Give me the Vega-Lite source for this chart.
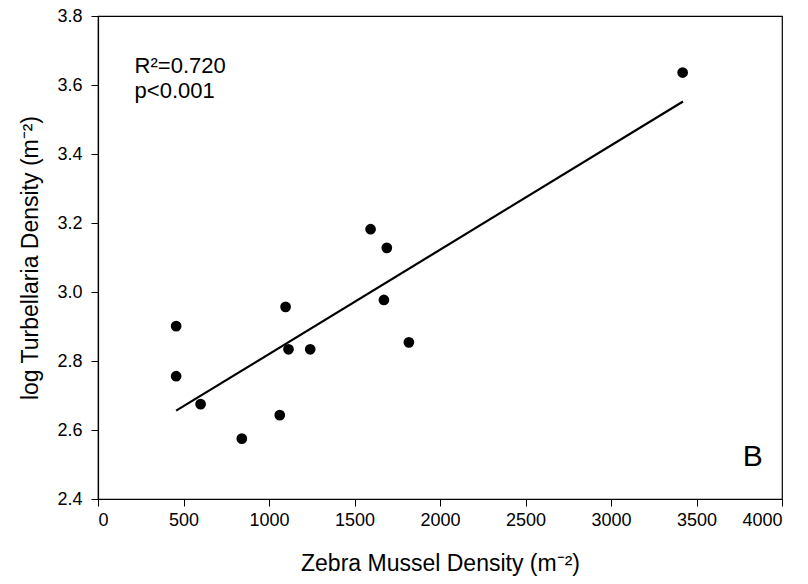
{
  "$schema": "https://vega.github.io/schema/vega-lite/v6.json",
  "width": 684,
  "height": 483,
  "autosize": {"type": "none"},
  "padding": {"left": 98, "top": 16, "right": 26, "bottom": 85},
  "background": "white",
  "config": {
    "view": {"stroke": "black", "strokeWidth": 1.2},
    "font": "Liberation Sans",
    "axis": {
      "grid": false,
      "domainColor": "black",
      "domainWidth": 1.2,
      "tickColor": "black",
      "tickSize": 7,
      "labelFont": "Liberation Sans",
      "labelFontSize": 18,
      "labelColor": "black",
      "titleFont": "Liberation Sans",
      "titleFontSize": 23,
      "titleFontWeight": "normal",
      "titleColor": "black"
    }
  },
  "datasets": {
    "points": [
      {"mussel": 457, "turb": 2.901},
      {"mussel": 457, "turb": 2.756},
      {"mussel": 600, "turb": 2.675},
      {"mussel": 841, "turb": 2.575},
      {"mussel": 1063, "turb": 2.643},
      {"mussel": 1097, "turb": 2.957},
      {"mussel": 1114, "turb": 2.834},
      {"mussel": 1241, "turb": 2.834},
      {"mussel": 1818, "turb": 2.854},
      {"mussel": 1672, "turb": 2.977},
      {"mussel": 1594, "turb": 3.182},
      {"mussel": 1689, "turb": 3.128},
      {"mussel": 3419, "turb": 3.636}
    ],
    "fit": [
      {"mussel": 457, "turb": 2.656},
      {"mussel": 3421, "turb": 3.552}
    ]
  },
  "layer": [
    {
      "data": {"name": "fit"},
      "mark": {"type": "line", "color": "black", "strokeWidth": 2.2},
      "encoding": {
        "x": {"field": "mussel", "type": "quantitative",
              "scale": {"domain": [0, 4000], "nice": false, "zero": false},
              "axis": {"values": [0, 500, 1000, 1500, 2000, 2500, 3000, 3500, 4000], "title": "Zebra Mussel Density (m⁻²)", "labelPadding": 5, "titlePadding": 23, "format": "d"}},
        "y": {"field": "turb", "type": "quantitative",
              "scale": {"domain": [2.4, 3.8], "nice": false, "zero": false},
              "axis": {"values": [2.4, 2.6, 2.8, 3.0, 3.2, 3.4, 3.6, 3.8], "format": ".1f", "title": "log Turbellaria Density (m⁻²)", "labelPadding": 9, "titlePadding": 14}}
      }
    },
    {
      "data": {"name": "points"},
      "mark": {"type": "point", "filled": true, "color": "black", "size": 115, "opacity": 1},
      "encoding": {
        "x": {"field": "mussel", "type": "quantitative"},
        "y": {"field": "turb", "type": "quantitative"}
      }
    },
    {
      "data": {"values": [{}]},
      "mark": {"type": "text", "text": "R²=0.720", "align": "left", "baseline": "alphabetic", "fontSize": 22, "color": "black"},
      "encoding": {"x": {"datum": 214}, "y": {"datum": 3.634}}
    },
    {
      "data": {"values": [{}]},
      "mark": {"type": "text", "text": "p<0.001", "align": "left", "baseline": "alphabetic", "fontSize": 22, "color": "black"},
      "encoding": {"x": {"datum": 214}, "y": {"datum": 3.561}}
    },
    {
      "data": {"values": [{}]},
      "mark": {"type": "text", "text": "B", "align": "center", "baseline": "middle", "fontSize": 30, "color": "black"},
      "encoding": {"x": {"datum": 3829}, "y": {"datum": 2.522}}
    }
  ]
}
